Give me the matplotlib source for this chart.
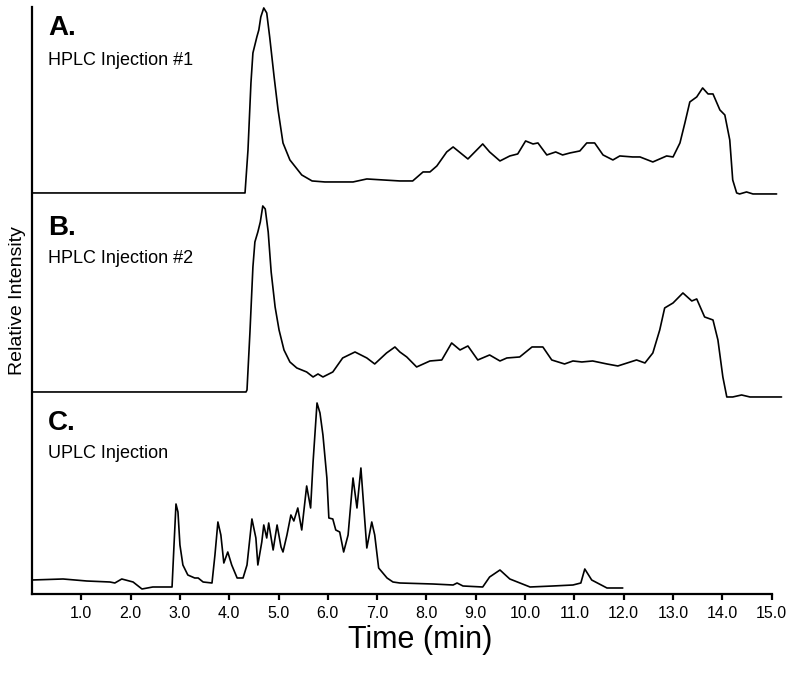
import matplotlib
matplotlib.use("Agg")
import matplotlib.pyplot as plt

# Chromatogram traces (time in min, relative intensity)
time_a = [0.0, 4.30, 4.32, 4.38, 4.44, 4.48, 4.56, 4.60, 4.64, 4.70, 4.76, 4.82,
          4.91, 4.99, 5.09, 5.23, 5.47, 5.68, 5.94, 6.51, 6.79, 7.12, 7.46, 7.72,
          7.93, 8.07, 8.21, 8.41, 8.54, 8.84, 9.14, 9.28, 9.49, 9.69, 9.85, 10.01,
          10.16, 10.26, 10.44, 10.62, 10.76, 10.91, 11.11, 11.25, 11.41, 11.58, 11.78,
          11.92, 12.18, 12.33, 12.59, 12.87, 13.00, 13.14, 13.24, 13.34, 13.48, 13.60,
          13.71, 13.81, 13.95, 14.05, 14.15, 14.21, 14.29, 14.35, 14.49, 14.62, 15.10]
int_a = [0, 0, 0, 43, 110, 140, 156, 163, 176, 185, 180, 156,
         116, 83, 50, 33, 18, 12, 11, 11, 14, 13, 12, 12,
         21, 21, 27, 41, 46, 34, 49, 41, 32, 37, 39, 52,
         49, 50, 38, 41, 38, 40, 42, 50, 50, 38, 33,
         37, 36, 36, 31, 37, 36, 50, 70, 91, 96, 105,
         99, 99, 83, 78, 53, 13, 0, -1, 1, -1, -1]

time_b = [0.0, 4.34, 4.36, 4.42, 4.48, 4.52, 4.58, 4.63, 4.68, 4.73, 4.79, 4.85,
          4.93, 5.01, 5.11, 5.23, 5.37, 5.57, 5.70, 5.80, 5.90, 6.10, 6.30, 6.55,
          6.79, 6.95, 7.19, 7.36, 7.46, 7.60, 7.80, 8.07, 8.31, 8.51, 8.68, 8.84,
          9.04, 9.28, 9.49, 9.63, 9.89, 10.14, 10.36, 10.54, 10.80, 10.97, 11.15,
          11.37, 11.66, 11.88, 12.26, 12.43, 12.59, 12.73, 12.83, 13.00, 13.20, 13.38,
          13.48, 13.64, 13.81, 13.91, 14.01, 14.09, 14.21, 14.39, 14.56, 15.20]
int_b = [0, 0, 2, 60, 125, 150, 160, 170, 186, 183, 160, 120,
         85, 62, 42, 30, 24, 20, 15, 18, 15, 20, 34, 40,
         34, 28, 39, 45, 40, 35, 25, 31, 32, 49, 42, 46,
         32, 37, 31, 34, 35, 45, 45, 32, 28, 31, 30,
         31, 28, 26, 32, 29, 39, 62, 84, 89, 99, 91,
         93, 75, 72, 52, 15, -5, -5, -3, -5, -5]

time_c = [0.0, 0.63, 1.11, 1.58, 1.68, 1.82, 2.05, 2.23, 2.45, 2.59, 2.84, 2.88,
          2.92, 2.96, 3.00, 3.06, 3.16, 3.30, 3.37, 3.47, 3.65, 3.71, 3.77, 3.83,
          3.89, 3.97, 4.05, 4.16, 4.28, 4.36, 4.46, 4.54, 4.58, 4.66, 4.70, 4.76,
          4.80, 4.89, 4.97, 5.05, 5.09, 5.17, 5.25, 5.31, 5.39, 5.47, 5.57, 5.65,
          5.70, 5.78, 5.84, 5.90, 5.98, 6.02, 6.10, 6.16, 6.24, 6.32, 6.41, 6.51,
          6.59, 6.67, 6.71, 6.79, 6.89, 6.95, 7.03, 7.20, 7.32, 7.46, 8.13, 8.54,
          8.62, 8.74, 9.14, 9.28, 9.49, 9.69, 10.10, 10.56, 10.97, 11.13, 11.21,
          11.35, 11.66, 11.98]
int_c = [14, 15, 13, 12, 11, 15, 12, 5, 7, 7, 7, 49,
         90, 82, 49, 29, 19, 16, 16, 12, 11, 39, 72, 59,
         31, 42, 29, 16, 16, 29, 75, 56, 29, 52, 69, 56,
         71, 44, 69, 47, 42, 59, 79, 73, 86, 64, 108, 86,
         132, 191, 181, 159, 116, 76, 75, 64, 62, 42, 59, 116,
         86, 126, 99, 46, 72, 59, 26, 16, 12, 11, 10, 9,
         11, 8, 7, 17, 24, 15, 7, 8, 9, 11, 25,
         14, 6, 6]

labels = ["A.", "B.", "C."]
names = ["HPLC Injection #1", "HPLC Injection #2", "UPLC Injection"]
offsets = [401, 202, 0]

fig = plt.figure(figsize=(8, 6.74), dpi=100)
ax = fig.add_axes([0.04, 0.1187, 0.94, 0.871])

traces = [(time_a, int_a), (time_b, int_b), (time_c, int_c)]
for (t, y), off in zip(traces, offsets):
    ax.plot(t, [v + off for v in y], color="black", lw=1.2,
            solid_joinstyle="round", solid_capstyle="round")

# panel labels
label_tops = [579, 379, 184]
name_tops = [542, 344, 149]
for lab, name, yl, yn in zip(labels, names, label_tops, name_tops):
    ax.text(0.33, yl, lab, fontsize=20, fontweight="bold", va="top",
            family="Liberation Sans")
    ax.text(0.33, yn, name, fontsize=13, va="top", family="Liberation Sans")

ax.set_xlim(0, 15.25)
ax.set_ylim(0, 587)
for s in ["top", "right"]:
    ax.spines[s].set_visible(False)
ax.spines["bottom"].set_bounds(0, 15)
ax.spines["bottom"].set_linewidth(1.6)
ax.spines["left"].set_linewidth(1.6)

ax.set_yticks([])
ax.set_xticks(range(1, 16))
ax.set_xticklabels([f"{i}.0" for i in range(1, 16)],
                   family="Liberation Sans", fontsize=11.5)
ax.tick_params(axis="x", direction="out", length=4, width=1.6, pad=5)

ax.set_ylabel("Relative Intensity", fontsize=14, family="Liberation Sans", labelpad=4)
fig.text(0.525, 0.05, "Time (min)", fontsize=22, ha="center", va="center",
         family="Liberation Sans")

fig.savefig("out.png", dpi=100)
